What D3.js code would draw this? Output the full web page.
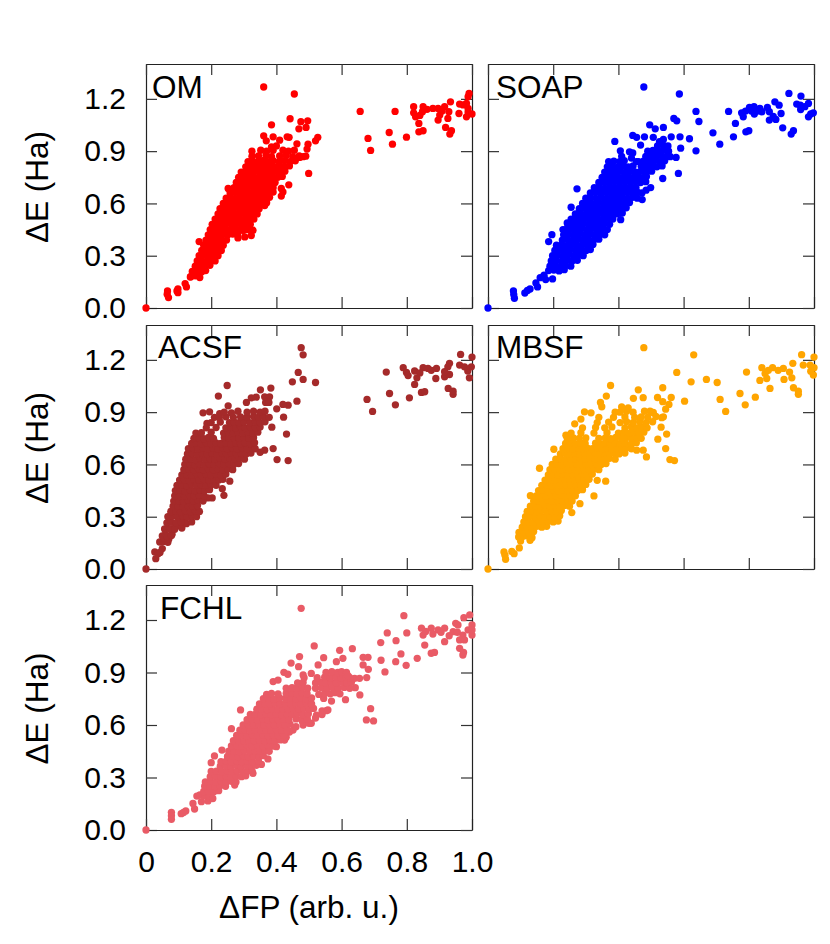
<!DOCTYPE html>
<html><head><meta charset="utf-8">
<script src="https://cdn.jsdelivr.net/npm/d3@7/dist/d3.min.js"></script>
<style>html,body{margin:0;padding:0;background:#fff}svg{display:block}text{font-family:"Liberation Sans",Arial,sans-serif;fill:#000}</style>
</head><body><div id="c"></div>
<script>
const xTicks=[0,0.2,0.4,0.6,0.8,1.0];
const xTickLabels=["0","0.2","0.4","0.6","0.8","1.0"];
const yTicks=[0,0.3,0.6,0.9,1.2];
const yTickLabels=["0.0","0.3","0.6","0.9","1.2"];
const xTitle="ΔFP (arb. u.)";
const yTitle="ΔE (Ha)";

const OM_sparse=[[0,0],[.066,.098],[.069,.06],[.065,.079],[.098,.088],[.098,.109],[.095,.098],[.124,.121],[.12,.14],[.136,.178],[.163,.381],[.252,.686],[.361,1.268],[.455,1.228],[.385,1.051],[.442,1.086],[.475,1.069],[.496,1.074],[.491,1.036],[.469,1.028],[.361,.988],[.369,.959],[.39,.982],[.433,.982],[.439,.979],[.41,.963],[.463,.942],[.527,.979],[.52,.959],[.497,.94],[.494,.912],[.49,.871],[.471,.864],[.499,.772],[.438,.707],[.415,.686],[.42,.666],[.415,.642],[.364,.588],[.328,.446],[.323,.416],[.303,.408],[.282,.402],[.298,.445],[.657,1.128],[.764,1.128],[.681,.973],[.689,.904],[.746,1.007],[.756,.94],[.799,.98],[.821,1.155],[.821,1.12],[.827,1.097],[.837,1.059],[.837,1.011],[.85,1.017],[.85,1.155],[.848,1.126],[.88,1.145],[.896,1.145],[.916,1.155],[.934,1.183],[.896,1.078],[.901,1.107],[.926,1.088],[.929,1.126],[.919,1.036],[.937,1.017],[.932,.998],[.962,1.17],[.96,1.116],[.983,1.174],[.988,1.145],[.983,1.097],[1.0,1.113],[.991,1.231],[.988,1.212],[.973,1.165],[.988,1.125],[.862,1.14],[.908,1.13],[.84,1.105]];
const OM_dense=[[.137,.18],[.151,.185],[.165,.175],[.142,.21],[.156,.212],[.171,.208],[.183,.215],[.151,.24],[.166,.243],[.18,.238],[.196,.245],[.157,.27],[.171,.272],[.186,.268],[.2,.275],[.212,.27],[.163,.3],[.177,.302],[.192,.298],[.206,.305],[.221,.3],[.171,.33],[.186,.332],[.201,.328],[.216,.335],[.231,.33],[.177,.36],[.192,.362],[.207,.358],[.222,.365],[.237,.36],[.184,.39],[.2,.392],[.216,.388],[.231,.395],[.247,.39],[.191,.42],[.206,.422],[.222,.418],[.236,.425],[.251,.42],[.266,.424],[.281,.42],[.197,.45],[.212,.452],[.227,.448],[.242,.455],[.257,.45],[.272,.454],[.287,.45],[.301,.455],[.312,.45],[.203,.48],[.217,.482],[.232,.478],[.247,.485],[.262,.48],[.277,.484],[.292,.48],[.307,.485],[.32,.48],[.212,.51],[.227,.512],[.242,.508],[.257,.515],[.272,.51],[.287,.514],[.302,.51],[.317,.515],[.331,.51],[.221,.54],[.236,.542],[.251,.538],[.266,.545],[.281,.54],[.296,.544],[.311,.54],[.326,.545],[.341,.54],[.227,.57],[.242,.572],[.257,.568],[.272,.575],[.287,.57],[.302,.574],[.317,.57],[.332,.575],[.347,.57],[.237,.6],[.252,.602],[.267,.598],[.282,.605],[.297,.6],[.312,.604],[.327,.6],[.342,.605],[.356,.6],[.37,.604],[.246,.63],[.26,.632],[.275,.628],[.29,.635],[.305,.63],[.32,.634],[.335,.63],[.35,.635],[.365,.63],[.379,.635],[.258,.66],[.273,.662],[.288,.658],[.303,.665],[.318,.66],[.333,.664],[.348,.66],[.363,.665],[.378,.66],[.39,.665],[.27,.69],[.285,.692],[.3,.688],[.315,.695],[.33,.69],[.345,.694],[.36,.69],[.375,.695],[.39,.69],[.277,.72],[.292,.722],[.307,.718],[.322,.725],[.337,.72],[.352,.724],[.367,.72],[.382,.725],[.396,.72],[.284,.75],[.299,.752],[.314,.748],[.329,.755],[.344,.75],[.359,.754],[.374,.75],[.389,.755],[.404,.75],[.418,.755],[.292,.78],[.307,.782],[.322,.778],[.337,.785],[.352,.78],[.367,.784],[.382,.78],[.397,.785],[.412,.78],[.426,.785],[.306,.81],[.321,.812],[.336,.808],[.351,.815],[.366,.81],[.381,.814],[.396,.81],[.411,.815],[.426,.81],[.44,.815],[.313,.84],[.328,.842],[.343,.838],[.358,.845],[.373,.84],[.39,.845],[.408,.84],[.425,.845],[.442,.84],[.458,.845],[.325,.87],[.345,.872],[.368,.875],[.385,.868],[.41,.872],[.43,.875],[.45,.868],[.47,.873],[.482,.868],[.325,.9],[.352,.905],[.37,.9],[.39,.905],[.42,.905],[.437,.9],[.455,.905],[.385,.925],[.4,.93]];

const SOAP_sparse=[[0,0],[.078,.098],[.079,.077],[.081,.056],[.113,.086],[.121,.101],[.129,.109],[.152,.121],[.147,.144],[.16,.174],[.172,.188],[.177,.163],[.198,.167],[.186,.381],[.196,.421],[.21,.345],[.255,.578],[.273,.684],[.23,.45],[.243,.488],[.407,.507],[.478,1.268],[.587,1.228],[.389,.956],[.406,.902],[.434,.896],[.444,.89],[.444,.99],[.456,.979],[.48,.982],[.496,1.051],[.513,1.028],[.538,1.036],[.57,1.088],[.579,1.074],[.562,.982],[.589,.982],[.618,.971],[.591,.917],[.638,.902],[.507,.979],[.538,.967],[.468,.935],[.526,.954],[.577,.864],[.559,.868],[.536,.743],[.584,.772],[.499,.691],[.485,.676],[.473,.622],[.638,1.128],[.647,1.07],[.69,1.005],[.711,.94],[.738,1.128],[.759,1.059],[.753,.982],[.791,1.011],[.8,1.017],[.778,1.12],[.783,1.097],[.79,1.13],[.802,1.151],[.816,1.155],[.817,1.113],[.834,1.145],[.84,1.126],[.857,1.151],[.863,1.126],[.863,1.078],[.88,1.183],[.893,1.164],[.899,1.116],[.883,1.082],[.904,1.034],[.937,1.017],[.93,.998],[.923,1.231],[.96,1.216],[.947,1.17],[.958,1.164],[.959,1.139],[.983,1.174],[.972,1.155],[.998,1.12],[.983,1.097],[.99,1.113],[.808,1.13],[.827,1.13],[.875,1.1]];
const SOAP_dense=[[.186,.215],[.202,.218],[.218,.213],[.234,.22],[.19,.24],[.206,.245],[.222,.238],[.238,.244],[.254,.24],[.194,.27],[.21,.272],[.226,.268],[.242,.275],[.258,.27],[.274,.274],[.198,.3],[.214,.302],[.23,.298],[.246,.305],[.262,.3],[.278,.304],[.292,.3],[.205,.33],[.221,.332],[.237,.328],[.253,.335],[.269,.33],[.285,.334],[.301,.33],[.314,.335],[.21,.36],[.226,.362],[.242,.358],[.258,.365],[.274,.36],[.29,.364],[.306,.36],[.322,.365],[.228,.39],[.244,.392],[.26,.388],[.276,.395],[.292,.39],[.308,.394],[.324,.39],[.34,.395],[.232,.42],[.248,.422],[.264,.418],[.28,.425],[.296,.42],[.312,.424],[.328,.42],[.344,.425],[.358,.42],[.238,.45],[.254,.452],[.27,.448],[.286,.455],[.302,.45],[.318,.454],[.334,.45],[.35,.455],[.366,.45],[.245,.48],[.261,.482],[.277,.478],[.293,.485],[.309,.48],[.325,.484],[.341,.48],[.357,.485],[.373,.48],[.255,.51],[.271,.512],[.287,.508],[.303,.515],[.319,.51],[.335,.514],[.351,.51],[.367,.515],[.383,.51],[.268,.54],[.284,.542],[.3,.538],[.316,.545],[.332,.54],[.348,.544],[.364,.54],[.38,.545],[.396,.54],[.412,.545],[.28,.57],[.296,.572],[.312,.568],[.328,.575],[.344,.57],[.36,.574],[.376,.57],[.392,.575],[.408,.57],[.424,.575],[.29,.6],[.306,.602],[.322,.598],[.338,.605],[.354,.6],[.37,.604],[.386,.6],[.402,.605],[.418,.6],[.434,.605],[.3,.63],[.316,.632],[.332,.628],[.348,.635],[.364,.63],[.38,.634],[.396,.63],[.412,.635],[.428,.63],[.444,.635],[.458,.63],[.314,.66],[.33,.662],[.346,.658],[.362,.665],[.378,.66],[.394,.664],[.41,.66],[.426,.665],[.442,.66],[.458,.665],[.472,.66],[.326,.69],[.342,.692],[.358,.688],[.374,.695],[.39,.69],[.406,.694],[.422,.69],[.438,.695],[.454,.69],[.34,.72],[.356,.722],[.372,.718],[.388,.725],[.404,.72],[.42,.724],[.436,.72],[.452,.725],[.468,.72],[.484,.725],[.35,.75],[.366,.752],[.382,.748],[.398,.755],[.414,.75],[.43,.754],[.446,.75],[.462,.755],[.478,.75],[.486,.755],[.358,.78],[.374,.782],[.39,.778],[.406,.785],[.422,.78],[.438,.784],[.454,.78],[.47,.785],[.486,.78],[.502,.785],[.366,.81],[.382,.812],[.398,.808],[.414,.815],[.43,.81],[.445,.815],[.47,.814],[.486,.81],[.502,.815],[.518,.81],[.534,.815],[.37,.84],[.386,.842],[.404,.84],[.418,.845],[.44,.86],[.455,.84],[.462,.84],[.478,.844],[.494,.84],[.51,.845],[.526,.84],[.542,.845],[.41,.87],[.484,.87],[.5,.874],[.516,.87],[.532,.875],[.548,.87],[.49,.9],[.506,.904],[.522,.9],[.538,.905],[.554,.9],[.52,.93],[.537,.935],[.552,.93]];

const ACSF_sparse=[[0,0],[.03,.059],[.027,.098],[.037,.088],[.05,.117],[.043,.095],[.476,1.27],[.482,1.229],[.467,1.128],[.482,1.088],[.449,1.074],[.52,1.07],[.249,1.053],[.222,.992],[.351,1.028],[.383,1.038],[.463,.963],[.436,.94],[.42,.944],[.401,.919],[.422,.871],[.386,.814],[.431,.774],[.39,.691],[.402,.628],[.436,.622],[.364,.682],[.35,.67],[.257,.504],[.239,.423],[.203,.408],[.19,.408],[.234,.461],[.175,.896],[.195,.902],[.187,.835],[.308,.956],[.323,.982],[.338,.986],[.364,.988],[.379,.988],[.367,.956],[.377,.956],[.252,.936],[.226,.892],[.21,.87],[.124,.26],[.678,.973],[.695,.904],[.737,1.13],[.747,1.007],[.765,.942],[.808,.982],[.789,1.155],[.799,1.128],[.804,1.11],[.824,1.059],[.845,1.013],[.855,1.017],[.824,1.136],[.85,1.155],[.831,1.097],[.865,1.151],[.891,1.151],[.889,1.093],[.916,1.103],[.931,1.18],[.926,1.16],[.931,1.116],[.927,1.036],[.942,1.002],[.942,1.02],[.965,1.231],[1.0,1.216],[.962,1.17],[.977,1.16],[.987,1.136],[.992,1.097],[.998,1.16],[.916,1.132],[.84,1.125],[.875,1.14]];
const ACSF_dense=[[.042,.155],[.055,.158],[.067,.153],[.06,.2],[.07,.172],[.08,.2],[.055,.176],[.09,.24],[.1,.25],[.11,.235],[.12,.27],[.14,.27],[.05,.19],[.064,.188],[.078,.192],[.057,.23],[.072,.232],[.088,.228],[.064,.265],[.078,.268],[.093,.264],[.108,.27],[.067,.3],[.082,.302],[.097,.298],[.112,.305],[.127,.3],[.142,.305],[.155,.3],[.076,.33],[.091,.332],[.106,.328],[.121,.335],[.136,.33],[.151,.334],[.164,.33],[.083,.36],[.098,.362],[.113,.358],[.128,.365],[.143,.36],[.158,.364],[.085,.39],[.1,.392],[.115,.388],[.13,.395],[.145,.39],[.16,.394],[.175,.39],[.088,.42],[.103,.422],[.118,.418],[.133,.425],[.148,.42],[.163,.424],[.178,.42],[.09,.45],[.105,.452],[.12,.448],[.135,.455],[.15,.45],[.165,.454],[.18,.45],[.195,.455],[.095,.48],[.11,.482],[.125,.478],[.14,.485],[.155,.48],[.17,.484],[.185,.48],[.2,.485],[.215,.48],[.103,.51],[.118,.512],[.133,.508],[.148,.515],[.163,.51],[.178,.514],[.193,.51],[.208,.515],[.223,.51],[.236,.515],[.11,.54],[.125,.542],[.14,.538],[.155,.545],[.17,.54],[.185,.544],[.2,.54],[.215,.545],[.23,.54],[.245,.545],[.116,.57],[.131,.572],[.146,.568],[.161,.575],[.176,.57],[.191,.574],[.206,.57],[.221,.575],[.236,.57],[.251,.575],[.266,.57],[.119,.6],[.134,.602],[.149,.598],[.164,.605],[.179,.6],[.194,.604],[.209,.6],[.224,.605],[.239,.6],[.254,.605],[.269,.6],[.284,.605],[.122,.63],[.137,.632],[.152,.628],[.167,.635],[.182,.63],[.197,.634],[.212,.63],[.227,.635],[.242,.63],[.257,.635],[.272,.63],[.287,.635],[.302,.63],[.127,.66],[.142,.662],[.157,.658],[.172,.665],[.187,.66],[.202,.664],[.217,.66],[.232,.665],[.247,.66],[.262,.665],[.277,.66],[.292,.665],[.307,.66],[.322,.665],[.13,.69],[.145,.692],[.16,.688],[.175,.695],[.19,.69],[.205,.694],[.22,.69],[.235,.695],[.25,.69],[.265,.695],[.28,.69],[.295,.695],[.31,.69],[.325,.695],[.335,.69],[.14,.72],[.155,.722],[.17,.718],[.185,.725],[.2,.72],[.215,.724],[.23,.72],[.245,.725],[.26,.72],[.275,.725],[.29,.72],[.305,.725],[.32,.72],[.333,.725],[.147,.75],[.162,.752],[.177,.748],[.192,.755],[.207,.75],[.24,.754],[.255,.75],[.27,.755],[.285,.75],[.3,.755],[.315,.75],[.33,.755],[.153,.78],[.17,.782],[.2,.785],[.238,.78],[.253,.784],[.268,.78],[.283,.785],[.298,.78],[.313,.785],[.328,.78],[.343,.785],[.185,.81],[.215,.812],[.245,.81],[.26,.814],[.275,.81],[.29,.815],[.305,.81],[.32,.815],[.335,.81],[.35,.815],[.2,.84],[.228,.843],[.256,.84],[.27,.844],[.285,.84],[.3,.845],[.318,.84],[.335,.845],[.35,.84],[.365,.845],[.225,.87],[.245,.873],[.268,.87],[.29,.873],[.31,.87],[.33,.875],[.345,.87],[.36,.875],[.378,.87],[.24,.9],[.262,.895],[.282,.905],[.31,.9],[.33,.905],[.35,.9],[.365,.905]];

const MBSF_sparse=[[0,0],[.049,.098],[.052,.079],[.054,.056],[.073,.101],[.08,.088],[.096,.121],[.094,.184],[.129,.165],[.105,.185],[.12,.19],[.135,.18],[.1,.16],[.13,.421],[.158,.578],[.202,.687],[.239,.768],[.266,.833],[.285,.86],[.296,.902],[.316,.896],[.325,.419],[.361,.504],[.282,.375],[.257,.324],[.335,.509],[.345,.956],[.349,.931],[.363,.992],[.376,1.053],[.478,1.27],[.631,1.229],[.579,1.128],[.623,1.074],[.67,1.088],[.703,1.07],[.712,.973],[.729,.904],[.603,.963],[.562,.984],[.536,1.04],[.52,.984],[.461,1.028],[.446,.979],[.476,.983],[.536,.96],[.555,.944],[.545,.917],[.533,.868],[.531,.814],[.548,.774],[.521,.745],[.545,.691],[.558,.628],[.572,.622],[.486,.643],[.476,.682],[.456,.682],[.497,.906],[.507,.898],[.538,.873],[.773,1.007],[.789,.942],[.793,1.13],[.82,.986],[.834,1.082],[.84,1.155],[.85,1.122],[.855,1.093],[.865,1.036],[.873,1.155],[.89,1.14],[.906,1.151],[.908,1.088],[.932,1.097],[.935,1.18],[.937,1.04],[.952,1.002],[.952,1.02],[.962,1.23],[1.0,1.216],[.967,1.17],[.988,1.17],[1.0,1.155],[.998,1.113],[.99,1.135],[.86,1.14],[.925,1.13]];
const MBSF_dense=[[.095,.21],[.11,.213],[.125,.208],[.14,.215],[.105,.24],[.12,.242],[.135,.238],[.15,.245],[.165,.24],[.18,.245],[.11,.27],[.125,.272],[.14,.268],[.155,.275],[.17,.27],[.185,.274],[.2,.27],[.215,.275],[.115,.3],[.13,.302],[.145,.298],[.16,.305],[.175,.3],[.19,.304],[.205,.3],[.22,.305],[.12,.33],[.135,.332],[.15,.328],[.165,.335],[.18,.33],[.195,.334],[.21,.33],[.225,.335],[.13,.36],[.145,.362],[.16,.358],[.175,.365],[.19,.36],[.205,.364],[.22,.36],[.235,.365],[.25,.36],[.14,.39],[.155,.392],[.17,.388],[.185,.395],[.2,.39],[.215,.394],[.23,.39],[.245,.395],[.258,.39],[.148,.42],[.163,.422],[.178,.418],[.193,.425],[.208,.42],[.223,.424],[.238,.42],[.253,.425],[.268,.42],[.155,.45],[.17,.452],[.185,.448],[.2,.455],[.215,.45],[.23,.454],[.245,.45],[.26,.455],[.275,.45],[.29,.455],[.165,.48],[.18,.482],[.195,.478],[.21,.485],[.225,.48],[.24,.484],[.255,.48],[.27,.485],[.285,.48],[.3,.485],[.175,.51],[.19,.512],[.205,.508],[.22,.515],[.235,.51],[.25,.514],[.265,.51],[.28,.515],[.295,.51],[.31,.515],[.185,.54],[.2,.542],[.215,.538],[.23,.545],[.245,.54],[.26,.544],[.275,.54],[.29,.545],[.305,.54],[.32,.545],[.19,.57],[.205,.572],[.22,.568],[.235,.575],[.25,.57],[.265,.574],[.28,.57],[.295,.575],[.31,.57],[.325,.575],[.34,.57],[.197,.6],[.212,.602],[.227,.598],[.242,.605],[.257,.6],[.272,.604],[.287,.6],[.302,.605],[.317,.6],[.332,.605],[.347,.6],[.362,.605],[.208,.63],[.223,.632],[.238,.628],[.253,.635],[.268,.63],[.283,.634],[.298,.63],[.313,.635],[.328,.63],[.343,.635],[.358,.63],[.373,.635],[.39,.63],[.222,.66],[.237,.662],[.252,.658],[.267,.665],[.282,.66],[.297,.664],[.312,.66],[.327,.665],[.342,.66],[.357,.665],[.372,.66],[.387,.665],[.402,.66],[.42,.665],[.23,.69],[.245,.692],[.26,.688],[.275,.695],[.29,.69],[.305,.694],[.32,.69],[.335,.695],[.35,.69],[.365,.695],[.38,.69],[.395,.695],[.41,.69],[.425,.695],[.44,.69],[.238,.72],[.253,.722],[.268,.718],[.283,.725],[.298,.72],[.33,.722],[.345,.718],[.36,.725],[.375,.72],[.39,.725],[.405,.72],[.42,.725],[.44,.72],[.455,.725],[.243,.75],[.262,.752],[.28,.75],[.3,.752],[.34,.75],[.36,.752],[.376,.748],[.392,.755],[.41,.75],[.425,.755],[.44,.75],[.455,.755],[.47,.75],[.255,.78],[.285,.782],[.325,.78],[.365,.782],[.4,.78],[.417,.784],[.432,.78],[.448,.785],[.462,.78],[.478,.785],[.29,.81],[.33,.812],[.358,.81],[.38,.815],[.42,.81],[.44,.815],[.456,.81],[.472,.815],[.488,.81],[.335,.84],[.37,.843],[.405,.84],[.425,.845],[.445,.84],[.465,.845],[.485,.84],[.505,.845],[.34,.87],[.385,.87],[.42,.872],[.45,.87],[.47,.872],[.49,.87],[.515,.875],[.39,.9],[.405,.9],[.425,.905],[.445,.9],[.48,.905],[.5,.9],[.43,.925],[.41,.93]];

const FCHL_sparse=[[0,0],[.078,.101],[.078,.082],[.078,.061],[.108,.093],[.122,.109],[.115,.1],[.149,.12],[.144,.152],[.156,.194],[.19,.166],[.17,.162],[.165,.2],[.18,.195],[.195,.19],[.205,.18],[.2,.385],[.21,.423],[.233,.457],[.262,.579],[.29,.686],[.476,1.267],[.791,1.225],[.516,1.052],[.471,.991],[.445,.954],[.468,.933],[.423,.901],[.435,.89],[.39,.848],[.405,.857],[.482,.886],[.545,.985],[.594,1.027],[.633,1.036],[.584,.962],[.604,.981],[.528,.943],[.507,.895],[.666,.987],[.681,.987],[.666,.943],[.682,.918],[.677,.871],[.64,.867],[.655,.867],[.642,.813],[.656,.772],[.612,.745],[.569,.737],[.689,.693],[.676,.629],[.698,.623],[.72,1.071],[.74,1.126],[.767,1.082],[.8,1.126],[.721,.97],[.733,.903],[.766,.962],[.782,1.006],[.798,.941],[.832,.981],[.553,.682],[.54,.68],[.558,.686],[.523,.657],[.507,.61],[.482,.6],[.451,.571],[.425,.514],[.4,.476],[.374,.406],[.354,.375],[.328,.324],[.272,.257],[.845,1.153],[.85,1.114],[.855,1.057],[.875,1.01],[.885,1.015],[.875,1.153],[.858,1.135],[.896,1.143],[.916,1.076],[.916,1.153],[.942,1.133],[.95,1.181],[.962,1.038],[.972,1.0],[.974,1.015],[.975,1.213],[.993,1.229],[.972,1.114],[.988,1.143],[1.0,1.172],[1.0,1.114],[.957,1.172],[.962,1.086],[.977,1.086],[1.0,1.143],[.88,1.12],[.905,1.13],[.93,1.11],[.955,1.13]];
const FCHL_dense=[[.44,.56],[.46,.59],[.48,.62],[.5,.61],[.52,.64],[.54,.66],[.43,.53],[.177,.22],[.192,.222],[.208,.218],[.223,.225],[.18,.25],[.196,.252],[.212,.248],[.228,.255],[.244,.25],[.182,.275],[.198,.278],[.214,.273],[.23,.28],[.246,.275],[.262,.278],[.276,.275],[.197,.305],[.213,.307],[.229,.303],[.245,.31],[.261,.305],[.277,.308],[.293,.305],[.306,.31],[.2,.335],[.216,.337],[.232,.333],[.248,.34],[.264,.335],[.28,.338],[.296,.335],[.312,.34],[.326,.335],[.228,.365],[.244,.367],[.26,.363],[.276,.37],[.292,.365],[.308,.368],[.324,.365],[.338,.37],[.23,.39],[.246,.393],[.262,.388],[.278,.395],[.294,.39],[.31,.393],[.326,.39],[.345,.395],[.25,.42],[.266,.422],[.282,.418],[.298,.425],[.314,.42],[.33,.423],[.346,.42],[.36,.425],[.254,.45],[.27,.452],[.286,.448],[.302,.455],[.318,.45],[.334,.453],[.35,.45],[.366,.455],[.378,.45],[.262,.48],[.278,.482],[.294,.478],[.31,.485],[.326,.48],[.342,.483],[.358,.48],[.374,.485],[.39,.48],[.268,.51],[.284,.512],[.3,.508],[.316,.515],[.332,.51],[.348,.513],[.364,.51],[.38,.515],[.396,.51],[.412,.515],[.278,.54],[.294,.542],[.31,.538],[.326,.545],[.342,.54],[.358,.543],[.374,.54],[.39,.545],[.406,.54],[.422,.545],[.288,.57],[.304,.572],[.32,.568],[.336,.575],[.352,.57],[.368,.573],[.384,.57],[.4,.575],[.416,.57],[.432,.575],[.298,.6],[.314,.602],[.33,.598],[.346,.605],[.362,.6],[.378,.603],[.394,.6],[.41,.605],[.426,.6],[.442,.605],[.31,.63],[.326,.632],[.342,.628],[.358,.635],[.374,.63],[.39,.633],[.406,.63],[.422,.635],[.438,.63],[.46,.635],[.478,.63],[.495,.635],[.32,.66],[.336,.662],[.352,.658],[.368,.665],[.384,.66],[.4,.663],[.416,.66],[.432,.665],[.448,.66],[.464,.665],[.48,.66],[.498,.665],[.34,.69],[.356,.692],[.372,.688],[.388,.695],[.404,.69],[.42,.693],[.436,.69],[.452,.695],[.468,.69],[.484,.695],[.5,.69],[.514,.695],[.348,.72],[.364,.722],[.38,.718],[.396,.725],[.412,.72],[.428,.723],[.444,.72],[.46,.725],[.476,.72],[.492,.725],[.508,.72],[.36,.75],[.376,.752],[.392,.748],[.41,.755],[.428,.75],[.444,.753],[.46,.75],[.476,.755],[.492,.75],[.508,.755],[.545,.752],[.37,.775],[.385,.78],[.405,.778],[.43,.78],[.447,.783],[.462,.78],[.478,.785],[.494,.78],[.53,.775],[.548,.78],[.565,.778],[.58,.785],[.595,.778],[.43,.81],[.448,.813],[.464,.81],[.48,.815],[.496,.81],[.52,.81],[.538,.813],[.555,.81],[.572,.815],[.59,.81],[.608,.815],[.625,.81],[.465,.84],[.482,.843],[.52,.84],[.536,.845],[.552,.84],[.568,.843],[.584,.84],[.6,.845],[.616,.84],[.63,.845],[.485,.87],[.525,.87],[.548,.873],[.565,.87],[.582,.875],[.598,.87],[.613,.873],[.625,.87],[.552,.9],[.57,.905],[.588,.9],[.6,.905],[.615,.9],[.62,.88]];

const panelNames=["OM","SOAP","ACSF","MBSF","FCHL"];
const panelColors=["#ff0000","#0000ff","#a52a2a","#ffa500","#e95b66"];
const panelData=[OM_sparse.concat(OM_dense),SOAP_sparse.concat(SOAP_dense),ACSF_sparse.concat(ACSF_dense),MBSF_sparse.concat(MBSF_dense),FCHL_sparse.concat(FCHL_dense)];
const panelBoxes=[[146,64,472,308],[488,64,814,308],[146,325,472,569],[488,325,814,569],[146,585,472,830]];
const labelPos=[[152,98],[496,98],[158,358],[496,358],[160,619]];

const svg=d3.select("#c").append("svg").attr("width",830).attr("height",944);
panelBoxes.forEach((b,i)=>{
  const x=d3.scaleLinear().domain([0,1]).range([b[0],b[2]]);
  const y=d3.scaleLinear().domain([0,1.4]).range([b[3],b[1]]);
  const g=svg.append("g");
  const left=i%2===0, bottom=i===4;
  const style=a=>{a.selectAll("path").attr("stroke","#222").attr("stroke-width",1.2);a.selectAll("line").attr("stroke","#333").attr("stroke-width",1.2);a.selectAll("text").style("font-size","30px").style("font-family","'Liberation Sans'").attr("fill","#000");};
  const axY=d3.axisLeft(y).tickValues(yTicks).tickSizeInner(-11).tickSizeOuter(0).tickPadding(20).tickFormat((d,k)=>left?yTickLabels[k]:"");
  const axX=d3.axisBottom(x).tickValues(xTicks).tickSizeInner(-11).tickSizeOuter(0).tickPadding(21).tickFormat((d,k)=>bottom?xTickLabels[k]:"");
  g.append("g").attr("transform",`translate(${b[0]},0)`).call(axY).call(style);
  g.append("g").attr("transform",`translate(0,${b[3]})`).call(axX).call(style);
  g.append("g").attr("transform",`translate(${b[2]},0)`).call(d3.axisRight(y).tickValues(yTicks).tickSizeInner(-11).tickSizeOuter(0).tickFormat("")).call(style);
  g.append("g").attr("transform",`translate(0,${b[1]})`).call(d3.axisTop(x).tickValues(xTicks).tickSizeInner(-11).tickSizeOuter(0).tickFormat("")).call(style);
  g.append("text").attr("x",labelPos[i][0]).attr("y",labelPos[i][1]).style("font-size","31.5px").text(panelNames[i]);
  g.append("g").selectAll("circle").data(panelData[i]).join("circle")
    .attr("cx",d=>x(d[0])).attr("cy",d=>y(d[1])).attr("r",3.65).attr("fill",panelColors[i]);
  if(left){
    svg.append("text").attr("transform",`translate(48,${(b[1]+b[3])/2+1}) rotate(-90)`).attr("text-anchor","middle").style("font-size","31.5px").text(yTitle);
  }
});
svg.append("text").attr("x",309).attr("y",918).attr("text-anchor","middle").style("font-size","31.5px").text(xTitle);
</script></body></html>
